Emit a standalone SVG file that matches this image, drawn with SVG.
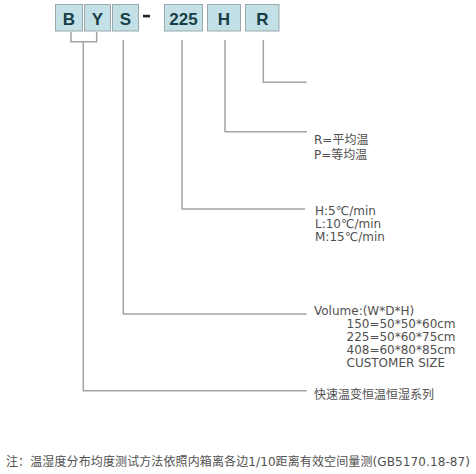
<svg xmlns="http://www.w3.org/2000/svg" width="476" height="474" viewBox="0 0 476 474">
<style>
.box{fill:#c2e0e5;stroke:#9aa9ab;stroke-width:1}
.bt{font-family:"Liberation Sans",Arial,sans-serif;font-weight:bold;font-size:17px;fill:#173f47;text-anchor:middle}
.ln{fill:none;stroke:#a3a3a3;stroke-width:1.5}
.tx{font-family:"DejaVu Sans","Noto Sans CJK SC",sans-serif;font-size:12px;fill:#505050}
</style>
<rect width="476" height="474" fill="#fff"/>
<g id="box-B"><rect class="box" x="55.5" y="4.5" width="27" height="26.5"/><text class="bt" x="69" y="24.5">B</text></g>
<g id="box-Y"><rect class="box" x="84.5" y="4.5" width="26" height="26.5"/><text class="bt" x="97.5" y="24.5">Y</text></g>
<g id="box-S"><rect class="box" x="112.5" y="4.5" width="26" height="26.5"/><text class="bt" x="125.5" y="24.5">S</text></g>
<g id="dash"><rect x="143" y="14.8" width="7" height="2.6" fill="#222"/></g>
<g id="box-225"><rect class="box" x="164.5" y="4.5" width="38" height="26.5"/><text class="bt" x="183.5" y="24.5">225</text></g>
<g id="box-H"><rect class="box" x="207.5" y="4.5" width="33" height="26.5"/><text class="bt" x="224" y="24.5">H</text></g>
<g id="box-R"><rect class="box" x="245.5" y="4.5" width="33.5" height="26.5"/><text class="bt" x="262.3" y="24.5">R</text></g>
<g id="connectors">
<path class="ln" d="M71 32V41.7H96.7V32M83.3 41.7V390.7H306.7"/>
<path class="ln" d="M123.3 40V314H306.7"/>
<path class="ln" d="M182 40V209H305"/>
<path class="ln" d="M225 40V131.7H307"/>
<path class="ln" d="M263.3 40V82.3H306.7"/>
</g>
<g id="label-R">
<text class="tx" x="314" y="144">R=平均温</text>
<text class="tx" x="314" y="158.5">P=等均温</text>
</g>
<g id="label-H">
<text class="tx" x="315" y="215">H:5℃/min</text>
<text class="tx" x="315" y="228">L:10℃/min</text>
<text class="tx" x="315" y="241">M:15℃/min</text>
</g>
<g id="label-volume">
<text class="tx" x="314" y="315">Volume:(W*D*H)</text>
<text class="tx" x="346.5" y="328">150=50*50*60cm</text>
<text class="tx" x="346.5" y="341">225=50*60*75cm</text>
<text class="tx" x="346.5" y="354">408=60*80*85cm</text>
<text class="tx" x="346.5" y="367">CUSTOMER SIZE</text>
</g>
<g id="label-series">
<text class="tx" x="314" y="398.5">快速温变恒温恒湿系列</text>
</g>
<g id="note">
<text class="tx" x="6" y="466" textLength="464" lengthAdjust="spacing">注：温湿度分布均度测试方法依照内箱离各边1/10距离有效空间量测(GB5170.18-87)</text>
</g>
</svg>
